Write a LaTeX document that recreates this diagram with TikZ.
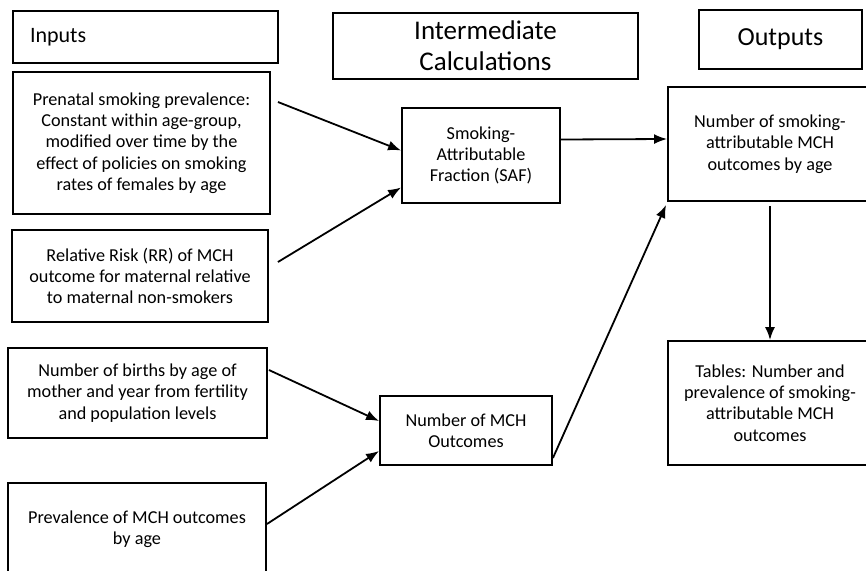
\documentclass[tikz,border=0pt]{standalone}
\usepackage{fontspec}
\setmainfont{Carlito}
\usepackage{tikz}
\usetikzlibrary{arrows.meta}

\begin{document}
\begin{tikzpicture}[x=1pt,y=-1pt]
\tikzstyle{box}=[rectangle,draw=black,line width=1.9pt,inner sep=0pt,align=center,font=\fontsize{18.2}{21.3}\selectfont]
\tikzstyle{head}=[box,font=\fontsize{27}{31}\selectfont]
\tikzstyle{flow}=[line width=1.8pt,-{Latex[length=13pt,width=10pt]}]
\useasboundingbox (0,0) rectangle (866,570);
\clip (0,0) rectangle (866,570);
% column headings
\node [head,minimum width=265pt,minimum height=52pt,text width=231pt,align=left,font=\fontsize{22}{26}\selectfont] (inhead) at (145.5,37) {Inputs};
\node [head,minimum width=305pt,minimum height=66pt] (midhead) at (485.5,46) {Intermediate\\Calculations};
\node [head,minimum width=163pt,minimum height=59pt,font=\fontsize{26}{31}\selectfont] (outhead) at (780.5,39.5) {Outputs};
% inputs
\node [box,minimum width=257pt,minimum height=142pt] (pren) at (141.5,143) {Prenatal smoking prevalence:\\Constant within age-group,\\modified over time by the\\effect of policies on smoking\\rates of females by age};
\node [box,minimum width=256pt,minimum height=92pt] (rr) at (140,276) {Relative Risk (RR) of MCH\\outcome for maternal relative\\to maternal non-smokers};
\node [box,minimum width=259pt,minimum height=90pt] (births) at (137.5,393) {Number of births by age of\\mother and year from fertility\\and population levels};
\node [box,minimum width=258pt,minimum height=92pt] (prev) at (137,529) {Prevalence of MCH outcomes\\by age};
% intermediate
\node [box,minimum width=158pt,minimum height=95pt] (saf) at (481,155.5) {Smoking-\\Attributable\\Fraction (SAF)};
\node [box,minimum width=172pt,minimum height=69pt] (mchout) at (466,430.5) {Number of MCH\\Outcomes};
% outputs
\node [box,minimum width=204pt,minimum height=114pt] (nsa) at (770,144) {Number of smoking-\\attributable MCH\\outcomes by age};
\node [box,minimum width=204pt,minimum height=124pt] (tables) at (770,403) {Tables: Number and\\prevalence of smoking-\\attributable MCH\\outcomes};
% arrows
\draw [flow] ([shift={(7,-41)}]pren.east) -- ([shift={(0,-5)}]saf.west);
\draw [flow] ([shift={(9,-14)}]rr.east) -- ([shift={(0,32)}]saf.west);
\draw [flow] ([shift={(0,-16)}]saf.east) -- ([shift={(0,-5)}]nsa.west);
\draw [flow] ([shift={(0,-8)}]mchout.south east) -- ([shift={(-1,3)}]nsa.south west);
\draw [flow] ([shift={(0,4)}]nsa.south) -- (tables.north);
\draw [flow] ([shift={(1,-23)}]births.east) -- ([shift={(0,-9.5)}]mchout.west);
\draw [flow] ([shift={(0,-5)}]prev.east) -- ([shift={(0,20.5)}]mchout.west);
\end{tikzpicture}
\end{document}
